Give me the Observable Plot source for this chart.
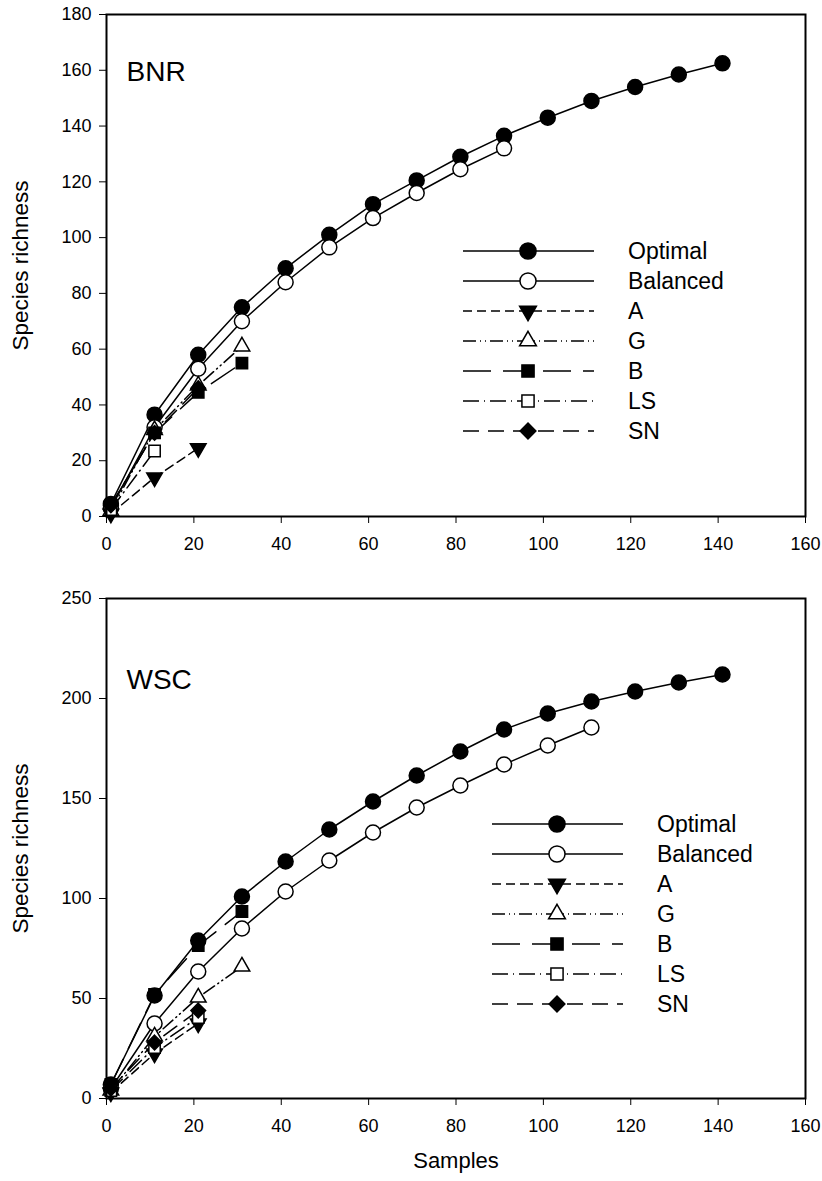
<!DOCTYPE html>
<html><head><meta charset="utf-8">
<script src="https://cdn.jsdelivr.net/npm/d3@7"></script>
<script src="https://cdn.jsdelivr.net/npm/@observablehq/plot@0.6"></script>
<style>
body{margin:0;background:#fff}
#wrap{width:822px;height:1181px;overflow:hidden}
#wrap svg{display:block}
</style></head><body><div id="wrap"></div>
<script>
// ---------- data ----------
const samples = [1, 11, 21, 31, 41, 51, 61, 71, 81, 91, 101, 111, 121, 131, 141];
const seriesNames = ["Optimal", "Balanced", "A", "G", "B", "LS", "SN"];
const xTicks = [0, 20, 40, 60, 80, 100, 120, 140, 160];
const bnrYTicks = [0, 20, 40, 60, 80, 100, 120, 140, 160, 180];
const wscYTicks = [0, 50, 100, 150, 200, 250];

const bnrOptimal = [4.5, 36.5, 58, 75, 89, 101, 112, 120.5, 129, 136.5, 143, 149, 154, 158.5, 162.5];
const bnrBalanced = [3, 32, 53, 70, 84, 96.5, 107, 116, 124.5, 132];
const bnrA = [1, 14, 24.5];
const bnrG = [2, 31, 47, 61];
const bnrB = [4, 30, 44.5, 55];
const bnrLS = [2.5, 23.5];
const bnrSN = [4, 30, 46];

const wscOptimal = [7, 51.5, 79, 101, 118.5, 134.5, 148.5, 161.5, 173.5, 184.5, 192.5, 198.5, 203.5, 208, 212];
const wscBalanced = [5, 37.5, 63.5, 85, 103.5, 119, 133, 145.5, 156.5, 167, 176.5, 185.5];
const wscA = [3, 22.5, 37.5];
const wscG = [4, 31, 50.5, 66];
const wscB = [7, 52, 76.5, 93.5];
const wscLS = [4, 25.5, 40.5];
const wscSN = [5, 28, 44];

// ---------- styles ----------
const FONT = "'Liberation Sans', Arial, sans-serif";
const NARROW = "'Liberation Sans Narrow', 'Liberation Sans', Arial, sans-serif";
const styles = {
  Optimal:  {symbol: "circle",   fill: "black", dash: null,            r: 7.5, rotate: 0},
  Balanced: {symbol: "circle",   fill: "white", dash: null,            r: 7.5, rotate: 0},
  A:        {symbol: "triangle", fill: "black", dash: "9,5",           r: 5.8, rotate: 180},
  G:        {symbol: "triangle", fill: "white", dash: "13,4,1,4,1,4",  r: 5.8, rotate: 0},
  B:        {symbol: "square",   fill: "black", dash: "28,12",         r: 6.4, rotate: 0},
  LS:       {symbol: "square",   fill: "white", dash: "16,5,1,5",      r: 6.4, rotate: 0},
  SN:       {symbol: "diamond2", fill: "black", dash: "16,9",          r: 6.6, rotate: 0}
};
const d3Symbols = {circle: d3.symbolCircle, triangle: d3.symbolTriangle, square: d3.symbolSquare, diamond2: d3.symbolDiamond2};

function toRows(values) {
  return values.map((v, i) => ({x: samples[i], y: v}));
}

function legendMark(offX, offY) {
  return (index, scales, values, dims) => {
    const g = d3.create("svg:g").attr("font-family", FONT).attr("font-size", 23)
      .attr("fill", "black").attr("text-anchor", "start");
    const x0 = dims.marginLeft + offX;
    seriesNames.forEach((name, i) => {
      const st = styles[name];
      const y = dims.marginTop + offY + i * 30;
      g.append("line").attr("x1", x0).attr("x2", x0 + 131).attr("y1", y).attr("y2", y)
        .attr("stroke", "black").attr("stroke-width", 1.5)
        .attr("stroke-dasharray", st.dash);
      g.append("path").attr("d", d3.symbol(d3Symbols[st.symbol], Math.PI * st.r * st.r * 1.15)())
        .attr("transform", `translate(${x0 + 65},${y}) rotate(${st.rotate})`)
        .attr("fill", st.fill).attr("stroke", "black").attr("stroke-width", 1.5);
      g.append("text").attr("x", x0 + 165).attr("y", y).attr("dy", "0.36em").text(name);
    });
    return g.node();
  };
}

function panel({series, yDomain, yTicks, label, height, marginTop, marginBottom, labelDy, legendX, legendY, xLabel}) {
  const marks = [];
  seriesNames.forEach((name) => {
    const st = styles[name];
    marks.push(Plot.line(toRows(series[name]), {x: "x", y: "y", stroke: "black", strokeWidth: 1.5, strokeDasharray: st.dash}));
  });
  seriesNames.forEach((name) => {
    const st = styles[name];
    marks.push(Plot.dot(toRows(series[name]), {x: "x", y: "y", symbol: st.symbol, r: st.r, rotate: st.rotate, fill: st.fill, stroke: "black", strokeWidth: 1.5}));
  });
  marks.push(Plot.frame({stroke: "black", strokeWidth: 2}));
  marks.push(Plot.axisX({ticks: xTicks, tickSize: 7, tickPadding: 14, fontSize: 18, label: null, tickFormat: d3.format("d")}));
  marks.push(Plot.axisY({ticks: yTicks, tickSize: 7, tickPadding: 8, fontSize: 18, label: null, tickFormat: d3.format("d")}));
  marks.push(Plot.text([label], {frameAnchor: "top-left", dx: 20, dy: labelDy, fontSize: 28, textAnchor: "start", lineAnchor: "middle"}));
  marks.push(Plot.text(["Species richness"], {frameAnchor: "left", dx: -86, rotate: -90, fontSize: 22.5, textAnchor: "middle", lineAnchor: "middle"}));
  if (xLabel) marks.push(Plot.text([xLabel], {frameAnchor: "bottom", dy: 62, fontSize: 22, fontFamily: NARROW, textAnchor: "middle", lineAnchor: "middle"}));
  marks.push(legendMark(legendX, legendY));
  return Plot.plot({
    width: 822, height, marginTop, marginBottom, marginLeft: 106, marginRight: 17,
    style: {fontFamily: FONT, color: "black", background: "white"},
    x: {domain: [0, 160]},
    y: {domain: yDomain},
    marks
  });
}

const wrap = document.getElementById("wrap");
wrap.appendChild(panel({
  series: {Optimal: bnrOptimal, Balanced: bnrBalanced, A: bnrA, G: bnrG, B: bnrB, LS: bnrLS, SN: bnrSN},
  yDomain: [0, 180], yTicks: bnrYTicks, label: "BNR",
  height: 560, marginTop: 14, marginBottom: 44, labelDy: 58,
  legendX: 357, legendY: 237
}));
wrap.appendChild(panel({
  series: {Optimal: wscOptimal, Balanced: wscBalanced, A: wscA, G: wscG, B: wscB, LS: wscLS, SN: wscSN},
  yDomain: [0, 250], yTicks: wscYTicks, label: "WSC",
  height: 621, marginTop: 38, marginBottom: 83, labelDy: 82,
  legendX: 386, legendY: 226, xLabel: "Samples"
}));
</script></body></html>
